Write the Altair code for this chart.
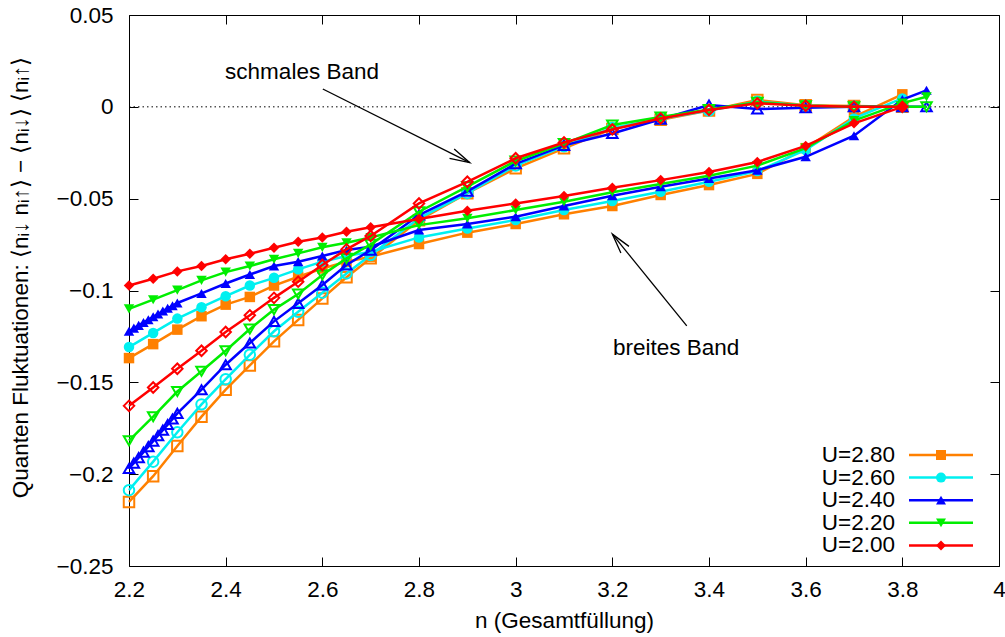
import math
import altair as alt
import pandas as pd

# ---------------- data ----------------
U_labels = ["U=2.80", "U=2.60", "U=2.40", "U=2.20", "U=2.00"]
colors = ["#ff8000", "#00f0f0", "#0000ff", "#00ee00", "#ff0000"]
shapes = ["square", "circle", "triangle-up", "triangle-down", "diamond"]

n_std = [2.2, 2.25, 2.3, 2.35, 2.4, 2.45, 2.5, 2.55, 2.6, 2.65, 2.7,
         2.8, 2.9, 3.0, 3.1, 3.2, 3.3, 3.4, 3.5, 3.6, 3.7, 3.8]
n_ext = n_std + [3.85]
n_blue = [2.2, 2.21, 2.22, 2.23, 2.24, 2.25, 2.26, 2.27, 2.28, 2.29, 2.3,
          2.35, 2.4, 2.45, 2.5, 2.55, 2.6, 2.65, 2.7,
          2.8, 2.9, 3.0, 3.1, 3.2, 3.3, 3.4, 3.5, 3.6, 3.7, 3.8, 3.85]

# breites Band (filled markers)
breit_280 = [-0.1368, -0.1292, -0.1213, -0.1140, -0.1077, -0.1035, -0.0973, -0.0925, -0.0880, -0.0843, -0.0816,
             -0.0747, -0.0685, -0.0638, -0.0585, -0.0540, -0.0480, -0.0426, -0.0365, -0.0225, -0.0054, 0.0068]
breit_260 = [-0.1308, -0.1231, -0.1153, -0.1091, -0.1031, -0.0973, -0.0931, -0.0885, -0.0843, -0.0812, -0.0789,
             -0.0711, -0.0662, -0.0616, -0.0562, -0.0513, -0.0462, -0.0408, -0.0350, -0.0235, -0.0063, 0.0046]
breit_240 = [-0.1222, -0.1205, -0.1190, -0.1174, -0.1159, -0.1143, -0.1128, -0.1112, -0.1097, -0.1083, -0.1068,
             -0.1016, -0.0962, -0.0913, -0.0867, -0.0843, -0.0812, -0.0780, -0.0762,
             -0.0671, -0.0638, -0.0598, -0.0540, -0.0484, -0.0435, -0.0390, -0.0345, -0.0272, -0.0157, 0.0040, 0.0090]
breit_220 = [-0.1100, -0.1050, -0.0998, -0.0945, -0.0900, -0.0867, -0.0830, -0.0798, -0.0765, -0.0740, -0.0711,
             -0.0644, -0.0607, -0.0562, -0.0517, -0.0465, -0.0420, -0.0375, -0.0320, -0.0225, -0.0075, 0.0020, 0.0055]
breit_200 = [-0.0973, -0.0936, -0.0896, -0.0867, -0.0830, -0.0800, -0.0767, -0.0735, -0.0711, -0.0680, -0.0656,
             -0.0611, -0.0566, -0.0526, -0.0486, -0.0440, -0.0399, -0.0355, -0.0300, -0.0213, -0.0090, 0.0000]

# schmales Band (open markers)
schmal_280 = [-0.2151, -0.2011, -0.1847, -0.1687, -0.1540, -0.1408, -0.1277, -0.1160, -0.1043, -0.0928, -0.0825,
              -0.0617, -0.0470, -0.0335, -0.0226, -0.0120, -0.0070, -0.0020, 0.0037, 0.0008, 0.0005, 0.0000]
schmal_260 = [-0.2087, -0.1932, -0.1772, -0.1620, -0.1483, -0.1350, -0.1222, -0.1116, -0.1012, -0.0907, -0.0807,
              -0.0607, -0.0470, -0.0320, -0.0215, -0.0115, -0.0065, -0.0020, 0.0028, 0.0006, 0.0000, 0.0000]
schmal_240 = [-0.1969, -0.1940, -0.1910, -0.1880, -0.1850, -0.1820, -0.1790, -0.1760, -0.1730, -0.1700, -0.1669,
              -0.1540, -0.1404, -0.1286, -0.1168, -0.1070, -0.0970, -0.0861, -0.0780,
              -0.0589, -0.0460, -0.0310, -0.0210, -0.0145, -0.0068, 0.0010, -0.0012, -0.0005, 0.0000, 0.0000, 0.0000]
schmal_220 = [-0.1818, -0.1687, -0.1550, -0.1440, -0.1328, -0.1210, -0.1104, -0.1019, -0.0916, -0.0825, -0.0749,
              -0.0571, -0.0435, -0.0295, -0.0200, -0.0099, -0.0055, -0.0015, 0.0025, 0.0006, 0.0000, 0.0000, 0.0000]
schmal_200 = [-0.1628, -0.1528, -0.1426, -0.1328, -0.1226, -0.1135, -0.1040, -0.0952, -0.0861, -0.0776, -0.0703,
              -0.0526, -0.0408, -0.0280, -0.0194, -0.0123, -0.0063, -0.0017, 0.0019, 0.0006, 0.0000, 0.0000]

series_n = [n_std, n_std, n_blue, n_ext, n_std]
series_breit = [breit_280, breit_260, breit_240, breit_220, breit_200]
series_schmal = [schmal_280, schmal_260, schmal_240, schmal_220, schmal_200]

x_ticks = [2.2, 2.4, 2.6, 2.8, 3.0, 3.2, 3.4, 3.6, 3.8, 4.0]
y_ticks = [-0.25, -0.2, -0.15, -0.1, -0.05, 0.0, 0.05]

ann_text = ["schmales Band", "breites Band"]
ann_text_x = [2.558, 3.332]
ann_text_y = [0.0191, -0.1314]
arrow_x1 = [2.601, 3.354]
arrow_y1 = [0.0097, -0.1193]
arrow_x2 = [2.905, 3.200]
arrow_y2 = [-0.0304, -0.0693]

y_title = "Quanten Fluktuationen: \u27e8n\u1d62\u2193 n\u1d62\u2191\u27e9 \u2212 \u27e8n\u1d62\u2193\u27e9 \u27e8n\u1d62\u2191\u27e9"
x_title = "n (Gesamtf\u00fcllung)"

# ---------------- layout ----------------
W, H = 870, 551
FONT = "Liberation Sans"
FS = 22.5

xs = alt.Scale(domain=[2.2, 4.0], nice=False, zero=False)
ys = alt.Scale(domain=[-0.25, 0.05], nice=False, zero=False)

ax_bottom = alt.Axis(values=x_ticks, format="~g", orient="bottom", offset=-9, tickSize=9, domain=False,
                     grid=False, labelPadding=12, labelFont=FONT, labelFontSize=FS, labelColor="black",
                     tickColor="black", tickWidth=1, title=x_title, titleFont=FONT, titleFontSize=FS,
                     titleFontWeight="normal", titleColor="black", titlePadding=9, labelFlush=False,
                     labelOverlap=False)
ax_left = alt.Axis(values=y_ticks, format="~g", orient="left", offset=-9, tickSize=9, domain=False,
                   grid=False, labelPadding=16, labelFont=FONT, labelFontSize=FS, labelColor="black",
                   tickColor="black", tickWidth=1, title=y_title, titleFont=FONT, titleFontSize=FS,
                   titleFontWeight="normal", titleColor="black", titlePadding=24, titleY=262,
                   labelFlush=False, labelOverlap=False)
ax_top = alt.Axis(values=x_ticks, orient="top", offset=-9, tickSize=9, domain=False, grid=False,
                  labels=False, tickColor="black", tickWidth=1, title=None)
ax_right = alt.Axis(values=y_ticks, orient="right", offset=-9, tickSize=9, domain=False, grid=False,
                    labels=False, tickColor="black", tickWidth=1, title=None)

layers = []

# zero dotted line (carries left/bottom axes)
zero_df = pd.DataFrame({"x": [2.2], "x2": [4.0], "y": [0.0]})
layers.append(
    alt.Chart(zero_df).mark_rule(color="black", strokeWidth=1, strokeDash=[1.5, 3]).encode(
        x=alt.X("x:Q", scale=xs, axis=ax_bottom), x2="x2:Q",
        y=alt.Y("y:Q", scale=ys, axis=ax_left))
)

# data series
for i in range(5):
    nn = series_n[i]
    df_b = pd.DataFrame({"n": nn[:len(series_breit[i])], "v": series_breit[i], "band": "breit"})
    df_s = pd.DataFrame({"n": nn[:len(series_schmal[i])], "v": series_schmal[i], "band": "schmal"})
    df = pd.concat([df_b, df_s], ignore_index=True)
    base = alt.Chart(df).encode(
        x=alt.X("n:Q", scale=xs, axis=None),
        y=alt.Y("v:Q", scale=ys, axis=None),
    )
    layers.append(base.mark_line(color=colors[i], strokeWidth=2.5).encode(detail="band:N", order="n:Q"))
    layers.append(base.transform_filter(alt.datum.band == "schmal").mark_point(
        shape=shapes[i], filled=False, color=colors[i], size=110, strokeWidth=2, opacity=1))
    layers.append(base.transform_filter(alt.datum.band == "breit").mark_point(
        shape=shapes[i], filled=True, color=colors[i], size=110, opacity=1))

# annotations
ann_df = pd.DataFrame({"t": ann_text, "x": ann_text_x, "y": ann_text_y})
layers.append(alt.Chart(ann_df).mark_text(font=FONT, fontSize=FS, color="black", align="center",
                                          baseline="middle").encode(
    x=alt.X("x:Q", scale=xs, axis=None), y=alt.Y("y:Q", scale=ys, axis=None), text="t:N"))

px_per_x = W / 1.8
px_per_y = H / 0.3
angles = []
for k in range(2):
    dxp = (arrow_x2[k] - arrow_x1[k]) * px_per_x
    dyp = -(arrow_y2[k] - arrow_y1[k]) * px_per_y
    angles.append(math.degrees(math.atan2(dyp, dxp)) % 360)
arr_df = pd.DataFrame({"x1": arrow_x1, "y1": arrow_y1, "x2": arrow_x2, "y2": arrow_y2, "ang": angles})
# arrow shafts (carry top/right mirror axes)
layers.append(alt.Chart(arr_df).mark_rule(color="black", strokeWidth=1.3).encode(
    x=alt.X("x1:Q", scale=xs, axis=ax_top), y=alt.Y("y1:Q", scale=ys, axis=ax_right),
    x2="x2:Q", y2="y2:Q"))
layers.append(alt.Chart(arr_df).mark_point(shape="M-1,-0.26L0,0L-1,0.26", filled=False, color="black",
                                           strokeWidth=1.3, size=1600, opacity=1).encode(
    x=alt.X("x2:Q", scale=xs, axis=None), y=alt.Y("y2:Q", scale=ys, axis=None),
    angle=alt.Angle("ang:Q", scale=None)))

# legend (inside plot, bottom right)
one = alt.Data(values=[{"a": 1}])
for i in range(5):
    ry = 440 + i * 22.6
    layers.append(alt.Chart(one).mark_text(font=FONT, fontSize=FS, color="black", align="right",
                                           baseline="middle", text=U_labels[i]).encode(
        x=alt.value(766), y=alt.value(ry)))
    layers.append(alt.Chart(one).mark_rule(color=colors[i], strokeWidth=2.5).encode(
        x=alt.value(780), x2=alt.value(844), y=alt.value(ry)))
    layers.append(alt.Chart(one).mark_point(shape=shapes[i], filled=True, color=colors[i], size=100,
                                            opacity=1).encode(x=alt.value(812), y=alt.value(ry)))

chart = alt.layer(*layers).resolve_axis(x="independent", y="independent").properties(
    width=W, height=H,
    padding={"left": 129, "top": 15, "right": 6, "bottom": 71},
    autosize=alt.AutoSizeParams(type="none"),
    background="white",
).configure_view(stroke="black", strokeWidth=1)

chart.save("out.html", embed_options={"renderer": "svg", "actions": False})
